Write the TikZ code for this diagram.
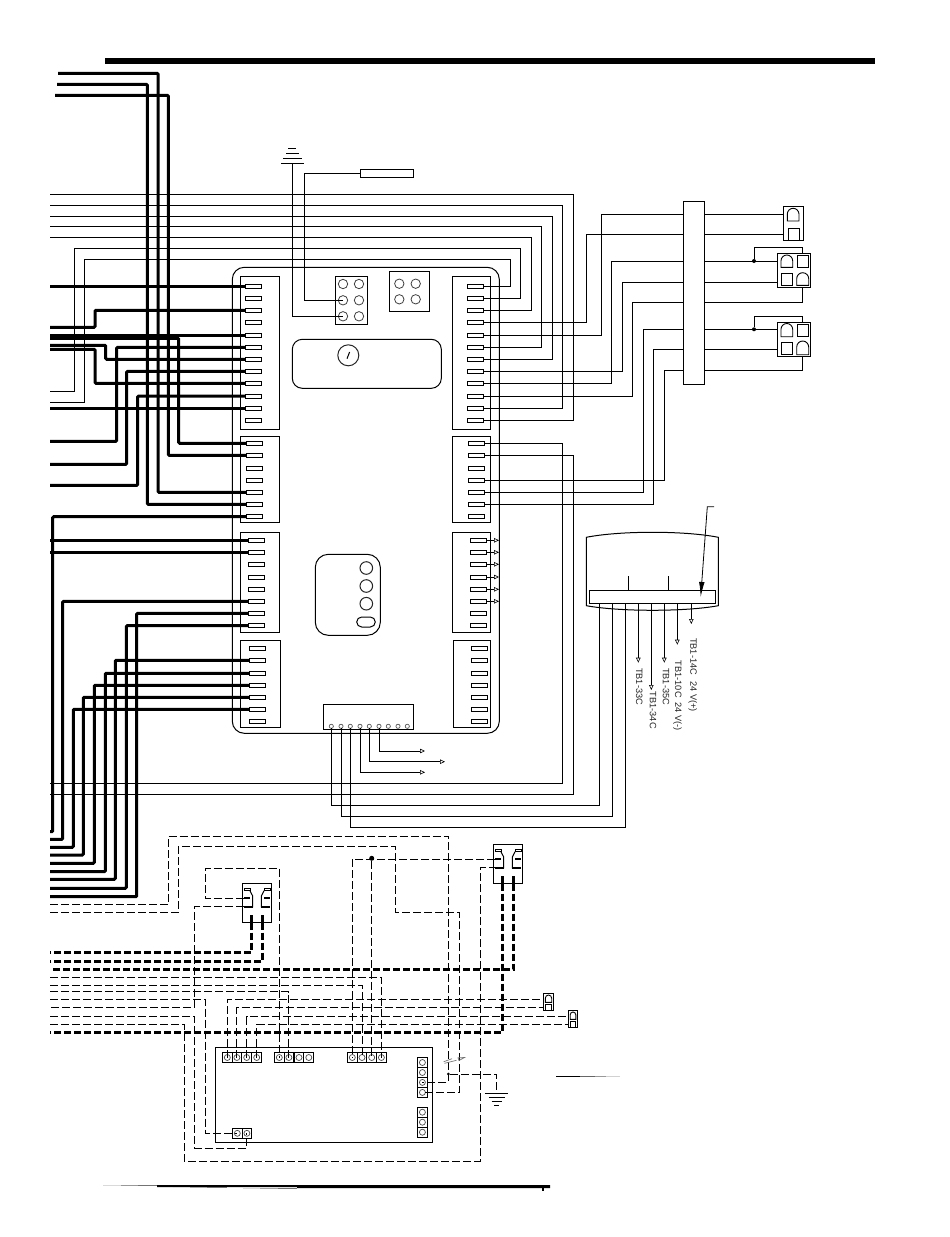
\documentclass[tikz,border=0pt]{standalone}
\usepackage{fontspec}
\setmainfont{Liberation Sans}
\usetikzlibrary{fit,arrows.meta,calc}
\tikzset{
  x=1pt,y=-1pt,
  wire/.style={line width=1pt,line join=miter},
  hvy/.style={line width=3pt,rounded corners=1pt},
  dsh/.style={line width=.9pt,dash pattern=on 8pt off 3pt},
  hdsh/.style={line width=3pt,dash pattern=on 7pt off 3pt},
  box/.style={draw,line width=1pt,inner sep=0pt,outer sep=0pt},
  term/.style={draw,line width=1pt,inner sep=0pt,outer sep=0pt,minimum width=16pt,minimum height=4pt},
  hole/.style={draw,circle,line width=.8pt,draw=black!75,inner sep=0pt,outer sep=0pt,minimum size=9.4pt},
  pin/.style={draw,circle,line width=.7pt,draw=black!65,inner sep=0pt,outer sep=0pt,minimum size=4.2pt},
  screw/.style={draw,circle,line width=.7pt,draw=black!70,inner sep=0pt,outer sep=0pt,minimum size=6pt},
  cell/.style={draw,line width=1pt,inner sep=0pt,outer sep=0pt,minimum width=9.8pt,minimum height=9.8pt},
  dot/.style={fill,circle,inner sep=0pt,outer sep=0pt,minimum size=4pt},
  arw/.style={wire,-{Triangle[open,length=5pt,width=4.5pt,line width=.6pt]}},
  lbl/.style={rotate=-90,anchor=west,inner sep=0pt,font=\fontsize{9.2}{10}\selectfont,text=black!85},
}
\newcommand{\bx}[6][]{\node[box,#1,fit={(#3,#4) (#5,#6)}] (#2) {};}
\newcommand{\dome}[4]{%
  \pgfmathsetmacro{\dmr}{(#2-#1)/2}%
  \pgfmathsetmacro{\dmm}{(#1+#2)/2}%
  \pgfmathsetmacro{\dmy}{#3+\dmr}%
  \pgfmathsetmacro{\dmc}{#3+.45*\dmr}%
  \pgfmathsetmacro{\dml}{\dmm-.55*\dmr}%
  \pgfmathsetmacro{\dmh}{\dmm+.55*\dmr}%
  \draw[wire,line width=.9pt] (#1,#4) -- (#1,\dmy) .. controls (#1,\dmc) and (\dml,#3) .. (\dmm,#3) .. controls (\dmh,#3) and (#2,\dmc) .. (#2,\dmy) -- (#2,#4) -- cycle;}
\newcommand{\sq}[4]{\draw[wire,line width=.9pt] (#1,#3) rectangle (#2,#4);}
\newcommand{\switchat}[3]{%
  \begin{scope}[shift={(#2,#3)}]
    \bx{#1}{0}{0}{29.4}{39.4}
    \draw[wire,line width=.8pt] (1.7,5) rectangle (7.7,7.4);
    \draw[wire,line width=.8pt] (21.7,5) rectangle (27.7,7.4);
    \draw[wire] (7.7,7.4) -- (10.4,12.7) -- (10.4,24);
    \draw[wire] (21.7,7.4) -- (19,12.7) -- (19,24);
    \draw[line width=1.7pt] (1.7,14.7) -- (7.7,14.7) (21.7,14.7) -- (27.7,14.7);
    \draw[line width=1.7pt] (1.7,23.4) -- (10.4,23.4) (19,23.4) -- (27.7,23.4);
    \draw[line width=3pt] (8.7,31.7) -- (8.7,39.4) (20.5,31.7) -- (20.5,39.4);
    \coordinate (#1lt) at (1.7,14.7);
    \coordinate (#1lb) at (1.7,23.4);
    \coordinate (#1bl) at (8.7,39.4);
    \coordinate (#1br) at (20.5,39.4);
  \end{scope}}
\newcommand{\gndsym}[3]{% name, x, y of top bar
  \coordinate (#1) at (#2,#3);
  \draw[wire] ($(#1)+(-11.6,0)$) -- ($(#1)+(11.6,0)$);
  \draw[wire] ($(#1)+(-8,4.5)$) -- ($(#1)+(8,4.5)$);
  \draw[wire] ($(#1)+(-5,8.5)$) -- ($(#1)+(5,8.5)$);
  \draw[wire] ($(#1)+(-2.6,12.5)$) -- ($(#1)+(2.6,12.5)$);}
\begin{document}
\begin{tikzpicture}
\useasboundingbox (0,0) rectangle (950,1237);
\fill[white] (0,0) rectangle (950,1237);

% title bar and bottom rule
\fill (105,58) rectangle (875,64);
\fill (157,1185) -- (550,1185) -- (550,1188) -- (297,1188) -- (297,1187) -- (157,1187) -- cycle;
\fill (541.7,1188) rectangle (543.7,1191);
\draw[black!15,line width=1pt] (103,1185.5) -- (121,1185.5);
\draw[black!40,line width=1pt] (121,1185.5) -- (138,1185.5);
\draw[black!55,line width=1pt] (138,1185.5) -- (157,1185.5);
\draw[black!15,line width=1pt] (173,1187.5) -- (190,1187.5) (243,1188) -- (260,1188);
\draw[black!35,line width=1pt] (190,1187.5) -- (207,1187.5) (260,1188) -- (278,1188);
\draw[black!55,line width=1pt] (207,1187.5) -- (227,1187.5) (278,1188) -- (297,1188);
\draw[black,line width=1pt] (556,1076.7) -- (580,1076.7);
\draw[black!60,line width=1pt] (580,1076.7) -- (595,1076.7);
\draw[black!40,line width=1pt] (595,1076.7) -- (606,1076.7);
\draw[black!18,line width=1pt] (606,1076.7) -- (620,1076.7);

% main board
\bx[rounded corners=12pt]{board}{232.3}{267.3}{499.3}{733.3}
\bx{La}{240.3}{276.3}{279.3}{429.3}
\bx{Lb}{240.3}{436.3}{279.3}{522.3}
\bx{Lc}{240.3}{532.3}{279.3}{632.3}
\bx{Ld}{240.3}{640.3}{280.3}{727}
\bx{Ra}{452.3}{276.3}{490.3}{429.3}
\bx{Rb}{452.3}{436.3}{490.3}{522.3}
\bx{Rc}{452.3}{532.3}{490.3}{632.3}
\bx{Rd}{453.3}{640.3}{490.3}{727}
\foreach \i/\y in {1/286.3,2/298.3,3/310.3,4/322.3,5/335.3,6/347.3,7/359.3,8/371.3,9/383.3,10/396,11/408.3,12/420.3}{
  \node[term] (La\i) at (253.3,\y) {};
  \node[term] (Ra\i) at (475.3,\y) {};
}
\foreach \i/\y in {1/443.3,2/455.3,3/468.3,4/480.3,5/492.3,6/504.3,7/516.7}{
  \node[term] (Lb\i) at (254.5,\y) {};
  \node[term] (Rb\i) at (476.5,\y) {};
}
\foreach \i/\y in {1/540.3,2/552.3,3/564.3,4/577,5/589.3,6/601.3,7/613.3,8/625.7}{
  \node[term] (Lc\i) at (256.2,\y) {};
  \node[term] (Rc\i) at (478.5,\y) {};
}
\foreach \i/\y in {1/648.3,2/660.3,3/673.3,4/685.3,5/697.3,6/709.3,7/721.3}{
  \node[term] (Ld\i) at (257.5,\y) {};
  \node[term] (Rd\i) at (479.5,\y) {};
}
% central parts
\bx{six}{335.3}{276.3}{367.3}{324.3}
\foreach \i/\x/\y in {1/343/284,2/359/284,3/343/300.3,4/359/300.3,5/343/316.3,6/359/316.3}{
  \node[hole] (sx\i) at (\x,\y) {};
}
\bx{four}{389.3}{271.3}{429.3}{311.3}
\foreach \i/\x/\y in {1/399.3/283.7,2/415.7/283.7,3/399.3/299.3,4/415.7/299.3}{
  \node[hole] (fr\i) at (\x,\y) {};
}
\bx[rounded corners=10pt]{panel}{292.3}{339.3}{441.3}{388.3}
\node[draw,circle,line width=1pt,draw=black!85,inner sep=0pt,minimum size=21pt] (gauge) at (348.3,355.3) {};
\draw[wire] (347,358.7) -- (349.6,352);
\bx[rounded corners=13pt]{relay}{315.3}{554.3}{380.3}{635.3}
\foreach \i/\y in {1/568,2/586,3/603.7}{
  \node[draw,circle,line width=1pt,draw=black!85,inner sep=0pt,minimum size=12.6pt] (rl\i) at (366.3,\y) {};
}
\bx[rounded corners=5pt]{rlo}{356.7}{617}{375.3}{627}
\bx{bot}{323.3}{704.3}{413.3}{729.3}
\foreach \i/\x in {1/331.3,2/341,3/350.3,4/360,5/369.3,6/379,7/388.3,8/398,9/407.3}{
  \node[pin] (Bc\i) at (\x,726.3) {};
}
% free ends
\foreach \n/\y in {194/194.3,205/205.3,216/216.3,226/226.3,237/237.3,391/391.3,402/402.3,783/783.3,794/794.3,
  286/286.3,327/327.3,335/335.3,338/338.3,345/345.3,349/349.3,408/408.3,441/441.3,464/464.3,485/485.3,540/540.3,552/552.3,
  832/831.7,839/839.3,847/847.3,855/855,863/863.3,872/871.7,879/879.3,888/888.3,897/896.7,
  904/904.3,912/912.3,952/952.3,961/961.3,970/969.5,977/977.3,985/985.3,992/991.7,999/999.3,1007/1007.3,1017/1016.7,1024/1024.3,1032/1032.3}{
  \coordinate (e\n) at (50,\y);
}
\coordinate (s1) at (58,73.3);
\coordinate (s2) at (57,84.3);
\coordinate (s3) at (55,95.3);

% heavy wires
\draw[hvy] (s1) -- (158,73.3) |- (Lb5.west);
\draw[hvy] (s2) -- (147.3,84.3) |- (Lb6.west);
\draw[hvy] (s3) -- (168.3,95.3) |- (Lb2.west);
\draw[hvy] (e338) -- (178.7,338.3) |- (Lb1.west);
\draw[hvy] (e286) -- (La1.west);
\draw[hvy] (La3.west) -| (95,327.3) -- (e327);
\draw[hvy] (e335) -- (La5.west);
\draw[hvy] (La6.west) -| (116.7,441.3) -- (e441);
\draw[hvy] (La7.west) -| (105.7,345.3) -- (e345);
\draw[hvy] (La8.west) -| (126.7,464.3) -- (e464);
\draw[hvy] (La9.west) -| (95,349.3) -- (e349);
\draw[hvy] (La10.west) -| (137.7,485.3) -- (e485);
\draw[hvy] (e408) -- (La11.west);
\draw[hvy] (Lb7.west) -| (52.7,831.7) -- (e832);
\draw[hvy] (e540) -- (Lc1.west);
\draw[hvy] (e552) -- (Lc2.west);
\draw[hvy] (Lc6.west) -| (62.7,839.3) -- (e839);
\draw[hvy] (Lc7.west) -| (136.7,896.7) -- (e897);
\draw[hvy] (Lc8.west) -| (126.3,888.3) -- (e888);
\draw[hvy] (Ld2.west) -| (115.3,879.3) -- (e879);
\draw[hvy] (Ld3.west) -| (105.3,871.7) -- (e872);
\draw[hvy] (Ld4.west) -| (94.3,863.3) -- (e863);
\draw[hvy] (Ld5.west) -| (83.3,855) -- (e855);
\draw[hvy] (Ld6.west) -| (73.3,847.3) -- (e847);

% harness block
\bx{hub}{683.3}{201.3}{704.7}{384.3}
\foreach \i/\y in {1/214,2/234.3,3/261,4/282.3,5/302.3,6/329.3,7/349.3,8/370.3}{
  \coordinate (hl\i) at (683.3,\y);
  \coordinate (hr\i) at (704.7,\y);
}
\bx{ca}{783.3}{206.3}{803.3}{240.3}
\dome{787.3}{799}{208.3}{221}
\sq{788}{799}{228.3}{240.3}
\bx{cb}{777.3}{253.3}{810.3}{287.3}
\dome{781}{792.7}{255}{267.3}
\sq{797}{808.7}{255.3}{267.3}
\sq{781}{792.7}{273.3}{285.3}
\dome{796.7}{808.7}{272.7}{285.3}
\bx{cc}{777.3}{322.3}{810.3}{356.3}
\dome{781}{792.7}{323.5}{336.7}
\sq{797}{808.7}{324.3}{336.3}
\sq{781}{792.7}{342.3}{354.7}
\dome{796.7}{808.7}{341}{354.7}

% thin wires, right side of the board
\draw[wire] (Ra12.east) -| (573.3,194.3) -- (e194);
\draw[wire] (Ra11.east) -| (562.3,205.3) -- (e205);
\draw[wire] (Ra7.east) -| (552.3,216.3) -- (e216);
\draw[wire] (Ra6.east) -| (541.3,226.3) -- (e226);
\draw[wire] (Ra3.east) -| (531.3,237.3) -- (e237);
\draw[wire] (Ra1.east) -| (510.3,259.3) -- (84.7,259.3) -- (84.7,402.3) -- (e402);
\draw[wire] (Ra2.east) -| (520.3,248.3) -- (74.3,248.3) -- (74.3,391.3) -- (e391);
\draw[wire] (Ra5.east) -| (601.3,214) -- (hl1);
\draw[wire] (Ra4.east) -| (586.3,234.3) -- (hl2);
\draw[wire] (Ra9.east) -| (611.3,261) -- (hl3);
\draw[wire] (Ra8.east) -| (622.3,282.3) -- (hl4);
\draw[wire] (Ra10.east) -| (632.3,302.3) -- (hl5);
\draw[wire] (Rb5.east) -| (643.3,329.3) -- (hl6);
\draw[wire] (Rb6.east) -| (653.3,349.3) -- (hl7);
\draw[wire] (Rb4.east) -| (664.3,370.3) -- (hl8);
\draw[wire] (Rb1.east) -| (562.3,783.3) -- (e783);
\draw[wire] (Rb2.east) -| (573.3,794.3) -- (e794);
\foreach \i in {1,...,6}{
  \draw[arw] (Rc\i.east) -- ++(12.5,0);
}
% hub to connectors
\draw[wire] (hr1) -- (ca.west |- hr1);
\draw[wire] (hr2) -- (ca.west |- hr2);
\node[dot] (dotb) at (754,261) {};
\node[dot] (dotc) at (754,329.3) {};
\draw[wire] (hr3) -- (cb.west |- hr3);
\draw[wire] (dotb) -- (754,247.3) -- (802.7,247.3) -- (802.7,253.3);
\draw[wire] (hr4) -- (cb.west |- hr4);
\draw[wire] (hr5) -- (802.7,302.3) -- (802.7,287.3);
\draw[wire] (hr6) -- (cc.west |- hr6);
\draw[wire] (dotc) -- (754,316.3) -- (802.7,316.3) -- (802.7,322.3);
\draw[wire] (hr7) -- (cc.west |- hr7);
\draw[wire] (hr8) -- (802.7,370.3) -- (802.7,356.3);

% ground and sensor to six-hole block
\draw[wire] (288.3,148) -- (296.3,148);
\draw[wire] (286,153.3) -- (298.7,153.3);
\draw[wire] (283.3,158.3) -- (301.7,158.3);
\draw[wire] (281,163.3) -- (304,163.3);
\coordinate (gtop) at (292.3,163.3);
\bx{sens}{360.3}{169.3}{413.3}{177.3}
\draw[wire] (gtop) |- (sx5.center);
\draw[wire] (sens.west) -| (304.3,300.3) -- (sx3.center);

% bottom connector arrows and long wires
\draw[arw] (Bc6.south) |- (425,751);
\draw[arw] (Bc5.south) |- (445,761.7);
\draw[arw] (Bc4.south) |- (425,772.3);

% device at right
\draw[wire] (586.3,605.7) -- (586.3,537.3) .. controls (620,530.6) and (685,530.6) .. (718.3,537.3) -- (718.3,605.7) .. controls (685,611.8) and (620,611.8) .. cycle;
\bx[fill=white]{dbar}{589.3}{590.3}{715.3}{603.3}
\draw[wire] (628.3,576) -- (628.3,590.3) (668.3,576) -- (668.3,590.3);
\foreach \n/\x in {p1/599.3,p2/612.3,p3/625.3,p4/638.3,p5/651.3,p6/664.3,p7/677.3,p8/691.3}{
  \coordinate (d\n) at (\x,603.3);
}
\draw[wire] (Bc1.south) |- (599.3,805.3) -- (dp1);
\draw[wire] (Bc2.south) |- (612.3,816.3) -- (dp2);
\draw[wire] (Bc3.south) |- (625.3,827.3) -- (dp3);
\draw[arw] (dp4) -- (638.3,662.7);
\draw[arw] (dp5) -- (651.3,690);
\draw[arw] (dp6) -- (664.3,662.7);
\draw[arw] (dp7) -- (677.3,644.7);
\draw[arw] (dp8) -- (691.3,624);
\node[lbl] (t33) at (639.3,668) {TB1-33C};
\node[lbl] (t34) at (653,691.7) {TB1-34C};
\node[lbl] (t35) at (666,668) {TB1-35C};
\node[lbl] (t10) at (677.5,660.7) {TB1-10C\hspace{2.5pt} 24 V(-)};
\node[lbl] (t14) at (692.7,638) {TB1-14C\hspace{4pt} 24 V(+)};
\coordinate (ldr) at (714,506.7);
\coordinate (ldtip) at (700.7,597);
\draw[wire,line width=.8pt,-{Latex[length=15pt,width=5.5pt]}] (ldr) -- (707.3,506.7) -- (ldtip);

% lower board
\bx{ctl}{215.3}{1047.3}{432.3}{1142.3}
\foreach \i/\x in {1/227.3,2/236.9,3/246.7,4/256.7}{
  \node[cell] (ta\i) at (\x,1057.5) {};
  \node[screw] at (ta\i) {};
}
\foreach \i/\x in {1/279.3,2/288.9,3/299,4/308.8}{
  \node[cell] (tb\i) at (\x,1057.5) {};
  \node[screw] at (tb\i) {};
}
\foreach \i/\x in {1/352.3,2/362,3/371.7,4/381.4}{
  \node[cell] (tc\i) at (\x,1057.5) {};
  \node[screw] at (tc\i) {};
}
\foreach \i/\y in {1/1062.5,2/1072.5,3/1082.4,4/1092.4}{
  \node[cell] (td\i) at (422.4,\y) {};
  \node[screw] at (td\i) {};
}
\foreach \i/\y in {1/1112.2,2/1122.2,3/1132.2}{
  \node[cell] (te\i) at (422.4,\y) {};
  \node[screw] at (te\i) {};
}
\foreach \i/\x in {1/237.3,2/246.9}{
  \node[cell] (tf\i) at (\x,1133.3) {};
  \node[screw] at (tf\i) {};
}
\switchat{swa}{242.3}{883.3}
\switchat{swb}{493.3}{844.3}
\bx{cd}{543.3}{993.3}{553.7}{1010.7}
\dome{545.3}{551.7}{995}{1002.3}
\sq{545.3}{551.7}{1004}{1010.7}
\bx{ce}{568.3}{1010.3}{577.7}{1027.7}
\dome{570.2}{575.8}{1012}{1019.3}
\sq{570.2}{575.8}{1021}{1027.7}

% dashed wires
\node[dot,minimum size=5pt] (dotd) at (371.7,858.3) {};
\node[dot,minimum size=3pt] (dote) at (448.3,1074) {};
\draw[dsh] (e904) -| (168.3,836) -- (448.3,836) -- (448.3,1082.4) -- (td3.center);
\draw[dsh] (e912) -| (178.3,846.3) -- (395.3,846.3) -- (395.3,912.3) -- (459.3,912.3) -- (459.3,1092.4) -- (td4.center);
\draw[dsh] (swalt) -| (205.3,868.3) -- (279.3,868.3) -- (tb1.center);
\draw[dsh] (e992) -| (tb2.center);
\draw[dsh] (swalb) -| (194.3,1007.3) -- (e1007);
\draw[dsh] (e1017) -- (194.3,1016.7) |- (246.9,1148) -- (tf2.center);
\draw[dsh] (e999) -| (205.7,1133.3) -- (tf1.center);
\draw[dsh] (e1024) -| (184.3,1161) -- (480.3,1161) -- (480.3,867.7) -- (swblb);
\draw[dsh] (swblt) -| (352.3,1057.5) -- (tc1.center);
\draw[dsh] (dotd) -- (tc3.center);
\draw[dsh] (e977) -| (tc4.center);
\draw[dsh] (e985) -| (tc2.center);
\draw[dsh] (ta1.center) |- (cd.west |- e999);
\draw[dsh] (ta2.center) |- (cd.west |- e1007);
\draw[dsh] (ta3.center) |- (ce.west |- e1017);
\draw[dsh] (ta4.center) |- (ce.west |- e1024);
\draw[dsh] (dote) -- (496.7,1074) -- (496.7,1093);
\gndsym{gndb}{496.7}{1093}
% break marks
\draw[black!55,line width=.7pt] (443.7,1061.7) -- (452,1058.7) (444.5,1063.3) -- (456.5,1060.3);
\draw[black!55,line width=.7pt] (458,1057.8) -- (464.5,1057.5) -- (459,1060.5) -- cycle;
% heavy dashed wires
\draw[hdsh] (swabl) |- (e952);
\draw[hdsh] (swabr) |- (e961);
\draw[hdsh] (swbbr) |- (e970);
\draw[hdsh] (swbbl) |- (e1032);
\end{tikzpicture}
\end{document}
